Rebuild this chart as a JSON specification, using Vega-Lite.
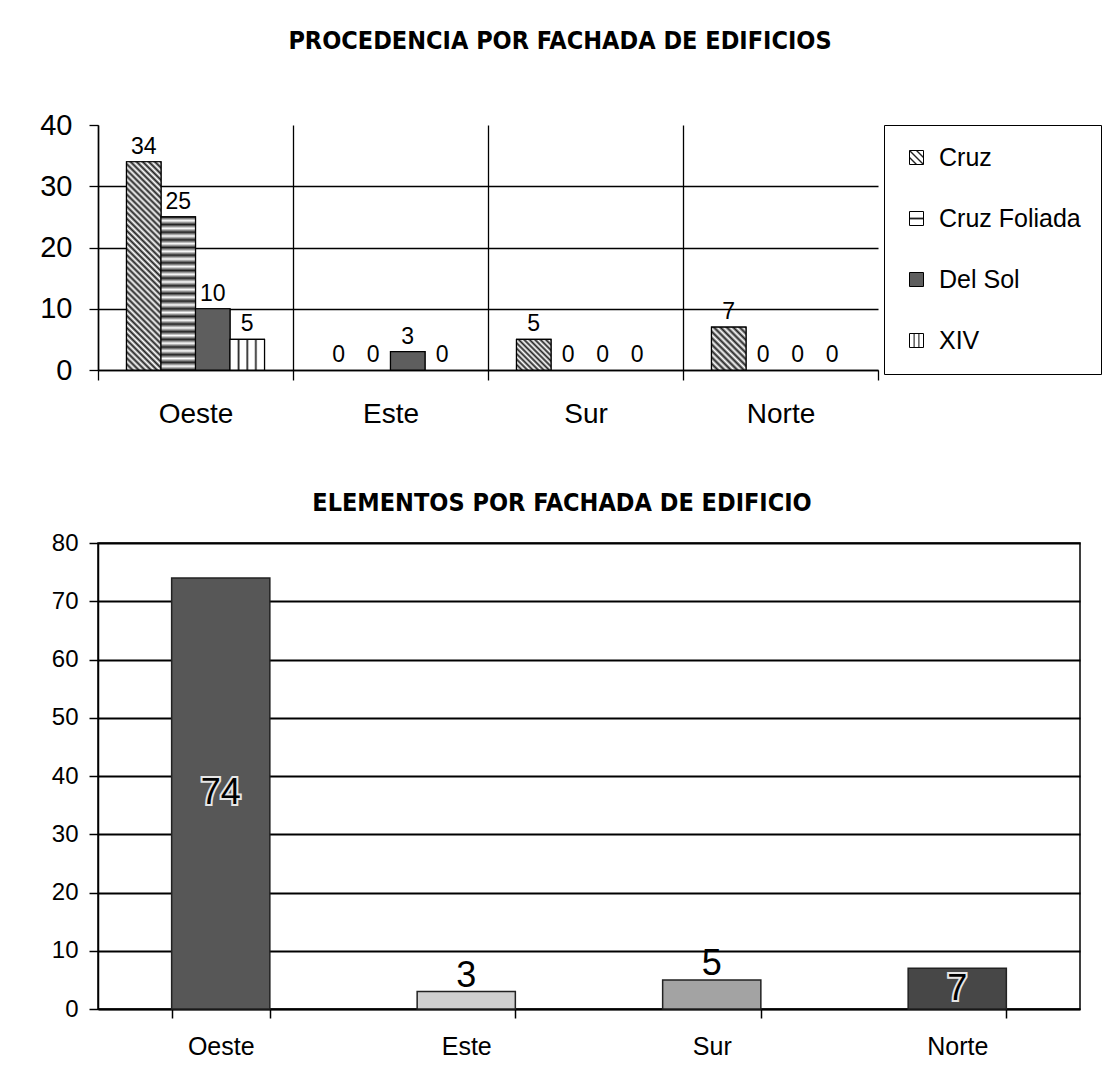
{
  "$schema": "https://vega.github.io/schema/vega-lite/v6.json",
  "padding": {"left": 39, "top": 29, "right": 5, "bottom": 5},
  "background": "white",
  "columns": 1,
  "align": "none",
  "spacing": 62,
  "resolve": {"scale": {"fill": "independent"}, "legend": {"fill": "independent"}},
  "datasets": {
    "procedencia": [
      {"fachada": "Oeste", "serie": "Cruz", "valor": 34},
      {"fachada": "Oeste", "serie": "Cruz Foliada", "valor": 25},
      {"fachada": "Oeste", "serie": "Del Sol", "valor": 10},
      {"fachada": "Oeste", "serie": "XIV", "valor": 5},
      {"fachada": "Este", "serie": "Cruz", "valor": 0},
      {"fachada": "Este", "serie": "Cruz Foliada", "valor": 0},
      {"fachada": "Este", "serie": "Del Sol", "valor": 3},
      {"fachada": "Este", "serie": "XIV", "valor": 0},
      {"fachada": "Sur", "serie": "Cruz", "valor": 5},
      {"fachada": "Sur", "serie": "Cruz Foliada", "valor": 0},
      {"fachada": "Sur", "serie": "Del Sol", "valor": 0},
      {"fachada": "Sur", "serie": "XIV", "valor": 0},
      {"fachada": "Norte", "serie": "Cruz", "valor": 7},
      {"fachada": "Norte", "serie": "Cruz Foliada", "valor": 0},
      {"fachada": "Norte", "serie": "Del Sol", "valor": 0},
      {"fachada": "Norte", "serie": "XIV", "valor": 0}
    ],
    "elementos": [
      {"fachada": "Oeste", "valor": 74},
      {"fachada": "Este", "valor": 3},
      {"fachada": "Sur", "valor": 5},
      {"fachada": "Norte", "valor": 7}
    ]
  },
  "config": {
    "font": "Liberation Sans",
    "view": {"stroke": null},
    "axis": {"labelColor": "black", "domainColor": "black", "tickColor": "black", "gridColor": "black", "labelFont": "Liberation Sans"},
    "title": {"color": "black"}
  },
  "concat": [
    {
      "width": 780,
      "height": 245,
      "data": {"name": "procedencia"},
      "title": {"text": "PROCEDENCIA POR FACHADA DE EDIFICIOS", "font": "DejaVu Sans Condensed, Roboto, sans-serif", "fontSize": 25, "fontWeight": "bold", "offset": 57, "frame": "group", "dx": 72},
      "encoding": {
        "x": {
          "field": "fachada", "type": "nominal", "sort": ["Oeste", "Este", "Sur", "Norte"],
          "scale": {"paddingInner": 0, "paddingOuter": 0},
          "axis": {"title": null, "labelAngle": 0, "labelFontSize": 28, "labelPadding": 20, "tickBand": "extent", "tickSize": 10, "tickWidth": 1.3, "domainWidth": 1.5, "grid": true, "gridWidth": 1.3,
            "gridOpacity": {"condition": {"test": "datum.value === 'Norte'", "value": 0}, "value": 1}}
        },
        "xOffset": {"field": "serie", "type": "nominal", "sort": ["Cruz", "Cruz Foliada", "Del Sol", "XIV"], "scale": {"paddingInner": 0, "paddingOuter": 0.826}},
        "y": {
          "field": "valor", "type": "quantitative", "scale": {"domain": [0, 40]},
          "axis": {"title": null, "values": [0, 10, 20, 30, 40], "labelFontSize": 29, "labelPadding": 17, "tickSize": 9, "tickWidth": 1.3, "domainWidth": 1.5, "grid": true, "gridWidth": 1.3,
            "gridOpacity": {"condition": {"test": "datum.value === 40", "value": 0}, "value": 1}}
        }
      },
      "layer": [
        {
          "transform": [{"filter": "datum.valor > 0"}],
          "mark": {"type": "bar", "stroke": "black", "strokeWidth": 1.2},
          "encoding": {
            "fill": {
              "field": "serie", "type": "nominal",
              "scale": {"domain": ["Cruz", "Cruz Foliada", "Del Sol", "XIV"], "range": [
                {"expr": "{gradient: 'linear', x1: 0, y1: 1, x2: 1, y2: 0, stops: [{offset: 0, color: '#fff'}, {offset: 0.18, color: '#fff'}, {offset: 0.25, color: '#222'}, {offset: 0.32, color: '#fff'}, {offset: 0.43, color: '#fff'}, {offset: 0.5, color: '#222'}, {offset: 0.57, color: '#fff'}, {offset: 0.68, color: '#fff'}, {offset: 0.75, color: '#222'}, {offset: 0.82, color: '#fff'}, {offset: 1, color: '#fff'}]}"},
                {"expr": "{gradient: 'linear', x1: 0, y1: 0, x2: 0, y2: 1, stops: [{offset: 0, color: '#fff'}, {offset: 0.38, color: '#fff'}, {offset: 0.5, color: '#222'}, {offset: 0.62, color: '#fff'}, {offset: 1, color: '#fff'}]}"},
                "#5e5e5e",
                {"expr": "{gradient: 'linear', x1: 0, y1: 0, x2: 1, y2: 0, stops: [{offset: 0, color: '#fff'}, {offset: 0.25, color: '#fff'}, {offset: 0.33, color: '#222'}, {offset: 0.41, color: '#fff'}, {offset: 0.59, color: '#fff'}, {offset: 0.67, color: '#222'}, {offset: 0.75, color: '#fff'}, {offset: 1, color: '#fff'}]}"}
              ]},
              "legend": {
                "title": null, "orient": "right", "offset": 6, "padding": 20, "strokeColor": "black",
                "symbolType": "square", "symbolSize": 196, "symbolStrokeColor": "black", "symbolStrokeWidth": 1, "symbolOpacity": 1,
                "labelFontSize": 25, "labelColor": "black", "labelFont": "Liberation Sans", "labelOffset": 10, "rowPadding": 35, "labelLimit": 300
              }
            }
          }
        },
        {
          "transform": [{"filter": "datum.valor > 0"}],
          "mark": {"type": "bar", "stroke": "black", "strokeWidth": 1.2},
          "encoding": {
            "fill": {
              "condition": [
                {"test": "datum.serie === 'Cruz' && datum.fachada === 'Oeste'", "value": {"gradient": "linear", "x1": 0, "y1": 1, "x2": 0.187, "y2": -0.134, "stops": [{"offset":0,"color":"#222"},{"offset":0.0125,"color":"#fff"},{"offset":0.025,"color":"#222"},{"offset":0.0375,"color":"#fff"},{"offset":0.05,"color":"#222"},{"offset":0.0625,"color":"#fff"},{"offset":0.075,"color":"#222"},{"offset":0.0875,"color":"#fff"},{"offset":0.1,"color":"#222"},{"offset":0.1125,"color":"#fff"},{"offset":0.125,"color":"#222"},{"offset":0.1375,"color":"#fff"},{"offset":0.15,"color":"#222"},{"offset":0.1625,"color":"#fff"},{"offset":0.175,"color":"#222"},{"offset":0.1875,"color":"#fff"},{"offset":0.2,"color":"#222"},{"offset":0.2125,"color":"#fff"},{"offset":0.225,"color":"#222"},{"offset":0.2375,"color":"#fff"},{"offset":0.25,"color":"#222"},{"offset":0.2625,"color":"#fff"},{"offset":0.275,"color":"#222"},{"offset":0.2875,"color":"#fff"},{"offset":0.3,"color":"#222"},{"offset":0.3125,"color":"#fff"},{"offset":0.325,"color":"#222"},{"offset":0.3375,"color":"#fff"},{"offset":0.35,"color":"#222"},{"offset":0.3625,"color":"#fff"},{"offset":0.375,"color":"#222"},{"offset":0.3875,"color":"#fff"},{"offset":0.4,"color":"#222"},{"offset":0.4125,"color":"#fff"},{"offset":0.425,"color":"#222"},{"offset":0.4375,"color":"#fff"},{"offset":0.45,"color":"#222"},{"offset":0.4625,"color":"#fff"},{"offset":0.475,"color":"#222"},{"offset":0.4875,"color":"#fff"},{"offset":0.5,"color":"#222"},{"offset":0.5125,"color":"#fff"},{"offset":0.525,"color":"#222"},{"offset":0.5375,"color":"#fff"},{"offset":0.55,"color":"#222"},{"offset":0.5625,"color":"#fff"},{"offset":0.575,"color":"#222"},{"offset":0.5875,"color":"#fff"},{"offset":0.6,"color":"#222"},{"offset":0.6125,"color":"#fff"},{"offset":0.625,"color":"#222"},{"offset":0.6375,"color":"#fff"},{"offset":0.65,"color":"#222"},{"offset":0.6625,"color":"#fff"},{"offset":0.675,"color":"#222"},{"offset":0.6875,"color":"#fff"},{"offset":0.7,"color":"#222"},{"offset":0.7125,"color":"#fff"},{"offset":0.725,"color":"#222"},{"offset":0.7375,"color":"#fff"},{"offset":0.75,"color":"#222"},{"offset":0.7625,"color":"#fff"},{"offset":0.775,"color":"#222"},{"offset":0.7875,"color":"#fff"},{"offset":0.8,"color":"#222"},{"offset":0.8125,"color":"#fff"},{"offset":0.825,"color":"#222"},{"offset":0.8375,"color":"#fff"},{"offset":0.85,"color":"#222"},{"offset":0.8625,"color":"#fff"},{"offset":0.875,"color":"#222"},{"offset":0.8875,"color":"#fff"},{"offset":0.9,"color":"#222"},{"offset":0.9125,"color":"#fff"},{"offset":0.925,"color":"#222"},{"offset":0.9375,"color":"#fff"},{"offset":0.95,"color":"#222"},{"offset":0.9625,"color":"#fff"},{"offset":0.975,"color":"#222"},{"offset":0.9875,"color":"#fff"},{"offset":1,"color":"#222"}]}},
                {"test": "datum.serie === 'Cruz' && datum.fachada === 'Sur'", "value": {"gradient": "linear", "x1": 0, "y1": 1, "x2": 1.055, "y2": 0.061, "stops": [{"offset":0,"color":"#222"},{"offset":0.041667,"color":"#fff"},{"offset":0.083333,"color":"#222"},{"offset":0.125,"color":"#fff"},{"offset":0.166667,"color":"#222"},{"offset":0.208333,"color":"#fff"},{"offset":0.25,"color":"#222"},{"offset":0.291667,"color":"#fff"},{"offset":0.333333,"color":"#222"},{"offset":0.375,"color":"#fff"},{"offset":0.416667,"color":"#222"},{"offset":0.458333,"color":"#fff"},{"offset":0.5,"color":"#222"},{"offset":0.541667,"color":"#fff"},{"offset":0.583333,"color":"#222"},{"offset":0.625,"color":"#fff"},{"offset":0.666667,"color":"#222"},{"offset":0.708333,"color":"#fff"},{"offset":0.75,"color":"#222"},{"offset":0.791667,"color":"#fff"},{"offset":0.833333,"color":"#222"},{"offset":0.875,"color":"#fff"},{"offset":0.916667,"color":"#222"},{"offset":0.958333,"color":"#fff"},{"offset":1,"color":"#222"}]}},
                {"test": "datum.serie === 'Cruz' && datum.fachada === 'Norte'", "value": {"gradient": "linear", "x1": 0, "y1": 1, "x2": 0.88, "y2": -0.096, "stops": [{"offset":0,"color":"#222"},{"offset":0.041667,"color":"#fff"},{"offset":0.083333,"color":"#222"},{"offset":0.125,"color":"#fff"},{"offset":0.166667,"color":"#222"},{"offset":0.208333,"color":"#fff"},{"offset":0.25,"color":"#222"},{"offset":0.291667,"color":"#fff"},{"offset":0.333333,"color":"#222"},{"offset":0.375,"color":"#fff"},{"offset":0.416667,"color":"#222"},{"offset":0.458333,"color":"#fff"},{"offset":0.5,"color":"#222"},{"offset":0.541667,"color":"#fff"},{"offset":0.583333,"color":"#222"},{"offset":0.625,"color":"#fff"},{"offset":0.666667,"color":"#222"},{"offset":0.708333,"color":"#fff"},{"offset":0.75,"color":"#222"},{"offset":0.791667,"color":"#fff"},{"offset":0.833333,"color":"#222"},{"offset":0.875,"color":"#fff"},{"offset":0.916667,"color":"#222"},{"offset":0.958333,"color":"#fff"},{"offset":1,"color":"#222"}]}},
                {"test": "datum.serie === 'Cruz Foliada'", "value": {"gradient": "linear", "x1": 0, "y1": 0, "x2": 0, "y2": 1, "stops": [{"offset":0,"color":"#222"},{"offset":0.025,"color":"#fff"},{"offset":0.05,"color":"#222"},{"offset":0.075,"color":"#fff"},{"offset":0.1,"color":"#222"},{"offset":0.125,"color":"#fff"},{"offset":0.15,"color":"#222"},{"offset":0.175,"color":"#fff"},{"offset":0.2,"color":"#222"},{"offset":0.225,"color":"#fff"},{"offset":0.25,"color":"#222"},{"offset":0.275,"color":"#fff"},{"offset":0.3,"color":"#222"},{"offset":0.325,"color":"#fff"},{"offset":0.35,"color":"#222"},{"offset":0.375,"color":"#fff"},{"offset":0.4,"color":"#222"},{"offset":0.425,"color":"#fff"},{"offset":0.45,"color":"#222"},{"offset":0.475,"color":"#fff"},{"offset":0.5,"color":"#222"},{"offset":0.525,"color":"#fff"},{"offset":0.55,"color":"#222"},{"offset":0.575,"color":"#fff"},{"offset":0.6,"color":"#222"},{"offset":0.625,"color":"#fff"},{"offset":0.65,"color":"#222"},{"offset":0.675,"color":"#fff"},{"offset":0.7,"color":"#222"},{"offset":0.725,"color":"#fff"},{"offset":0.75,"color":"#222"},{"offset":0.775,"color":"#fff"},{"offset":0.8,"color":"#222"},{"offset":0.825,"color":"#fff"},{"offset":0.85,"color":"#222"},{"offset":0.875,"color":"#fff"},{"offset":0.9,"color":"#222"},{"offset":0.925,"color":"#fff"},{"offset":0.95,"color":"#222"},{"offset":0.975,"color":"#fff"},{"offset":1,"color":"#222"}]}},
                {"test": "datum.serie === 'XIV'", "value": {"gradient": "linear", "x1": 0, "y1": 0, "x2": 1, "y2": 0, "stops": [{"offset":0,"color":"#fff"},{"offset":0.2,"color":"#fff"},{"offset":0.25,"color":"#222"},{"offset":0.3,"color":"#fff"},{"offset":0.45,"color":"#fff"},{"offset":0.5,"color":"#222"},{"offset":0.55,"color":"#fff"},{"offset":0.7,"color":"#fff"},{"offset":0.75,"color":"#222"},{"offset":0.8,"color":"#fff"},{"offset":1,"color":"#fff"}]}}
              ],
              "value": "#5e5e5e"
            }
          }
        },
        {
          "mark": {"type": "text", "baseline": "alphabetic", "dy": -8, "fontSize": 23, "font": "Liberation Sans", "fill": "black"},
          "encoding": {"text": {"field": "valor", "type": "quantitative"}}
        }
      ]
    },
    {
      "width": 982,
      "height": 466,
      "data": {"name": "elementos"},
      "view": {"stroke": "black", "strokeWidth": 1.5},
      "title": {"text": "ELEMENTOS POR FACHADA DE EDIFICIO", "font": "DejaVu Sans Condensed, Roboto, sans-serif", "fontSize": 25, "fontWeight": "bold", "offset": 15, "frame": "group", "dx": -27},
      "encoding": {
        "x": {
          "field": "fachada", "type": "nominal", "sort": ["Oeste", "Este", "Sur", "Norte"],
          "scale": {"paddingInner": 0.6, "paddingOuter": 0.3},
          "axis": {"title": null, "labelAngle": 0, "labelFontSize": 25, "labelPadding": 16, "tickBand": "extent", "tickSize": 9, "tickWidth": 1.5, "domainWidth": 1.5}
        },
        "y": {
          "field": "valor", "type": "quantitative", "scale": {"domain": [0, 80]},
          "axis": {"title": null, "values": [0, 10, 20, 30, 40, 50, 60, 70, 80], "labelFontSize": 24, "labelPadding": 11, "tickSize": 9, "tickWidth": 1.5, "domainWidth": 1.5, "grid": true, "gridWidth": 2}
        }
      },
      "layer": [
        {
          "mark": {"type": "bar", "stroke": "#222", "strokeWidth": 1.5},
          "encoding": {
            "fill": {"field": "fachada", "type": "nominal", "scale": {"domain": ["Oeste", "Este", "Sur", "Norte"], "range": ["#575757", "#d0d0d0", "#a3a3a3", "#474747"]}, "legend": null}
          }
        },
        {
          "transform": [{"filter": "datum.fachada === 'Oeste' || datum.fachada === 'Norte'"}, {"calculate": "datum.valor / 2", "as": "mitad"}],
          "mark": {"type": "text", "fontSize": 36, "baseline": "middle", "fill": "#e6e6e6", "stroke": "#e6e6e6", "strokeWidth": 4},
          "encoding": {"y": {"field": "mitad", "type": "quantitative", "title": null}, "text": {"field": "valor", "type": "quantitative"}}
        },
        {
          "transform": [{"filter": "datum.fachada === 'Oeste' || datum.fachada === 'Norte'"}, {"calculate": "datum.valor / 2", "as": "mitad"}],
          "mark": {"type": "text", "fontSize": 36, "baseline": "middle", "fill": "black"},
          "encoding": {"y": {"field": "mitad", "type": "quantitative", "title": null}, "text": {"field": "valor", "type": "quantitative"}}
        },
        {
          "transform": [{"filter": "datum.fachada === 'Este' || datum.fachada === 'Sur'"}],
          "mark": {"type": "text", "fontSize": 36, "baseline": "alphabetic", "dy": -5, "fill": "black"},
          "encoding": {"text": {"field": "valor", "type": "quantitative"}}
        }
      ]
    }
  ]
}
